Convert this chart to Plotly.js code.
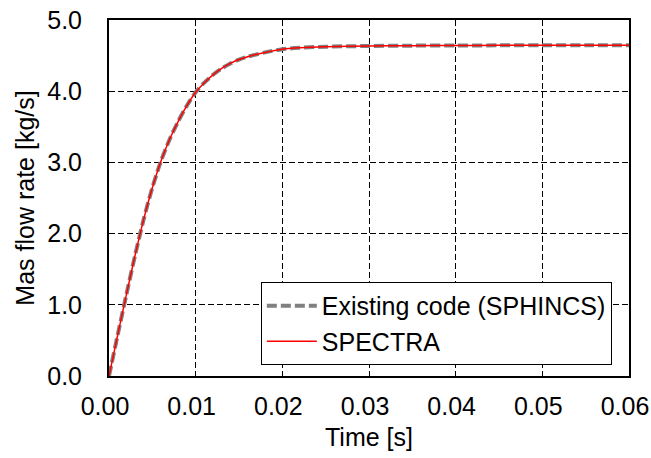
<!DOCTYPE html>
<html>
<head>
<meta charset="utf-8">
<script src="https://cdn.plot.ly/plotly-3.0.1.min.js"></script>
<style>html,body{margin:0;padding:0;background:#fff;}#chart{width:651px;height:458px;}</style>
</head>
<body>
<div id="chart"></div>
<script>
const time = [0, 0.001, 0.002, 0.003, 0.004, 0.005, 0.006, 0.007, 0.008, 0.009, 0.010, 0.011, 0.012, 0.013, 0.014, 0.015, 0.016, 0.018, 0.020, 0.022, 0.025, 0.030, 0.035, 0.040, 0.045, 0.050, 0.055, 0.060];
const sphincs = [0, 0.575, 1.14, 1.69, 2.20, 2.645, 3.02, 3.325, 3.58, 3.80, 3.985, 4.12, 4.23, 4.32, 4.39, 4.445, 4.485, 4.545, 4.59, 4.61, 4.625, 4.635, 4.64, 4.642, 4.644, 4.645, 4.645, 4.645];
const spectra = [0, 0.575, 1.14, 1.69, 2.20, 2.645, 3.02, 3.325, 3.58, 3.80, 3.985, 4.12, 4.23, 4.32, 4.39, 4.445, 4.485, 4.545, 4.59, 4.61, 4.625, 4.635, 4.64, 4.642, 4.644, 4.645, 4.645, 4.645];
const seriesNames = ["Existing code (SPHINCS)", "SPECTRA"];
const xTicks = [0, 0.01, 0.02, 0.03, 0.04, 0.05, 0.06];
const yTicks = [0, 1, 2, 3, 4, 5];

const font = {family: "Liberation Sans", size: 25, color: "#000"};
const traces = [
  {x: time, y: sphincs, name: seriesNames[0], mode: "lines", line: {color: "#808080", width: 4, dash: "10px,4px", shape: "spline", smoothing: 0.8}},
  {x: time, y: spectra, name: seriesNames[1], mode: "lines", line: {color: "#ff0000", width: 1.5, shape: "spline", smoothing: 0.8}}
];
const axisCommon = {
  showline: true, linecolor: "#000", linewidth: 2, mirror: true,
  showgrid: true, gridcolor: "#000", gridwidth: 1, griddash: "6px,3px",
  ticks: "inside", ticklen: 5, tickcolor: "#000", tickwidth: 1,
  zeroline: false, tickfont: font, ticklabeloverflow: "allow"
};
const layout = {
  width: 651, height: 458,
  margin: {l: 109, r: 22, t: 20, b: 82},
  paper_bgcolor: "#fff", plot_bgcolor: "#fff",
  font: font,
  showlegend: true,
  legend: {x: 0.967, y: 0.031, xanchor: "right", yanchor: "bottom", bgcolor: "#fff", bordercolor: "#000", borderwidth: 1, font: font, tracegroupgap: 0, itemwidth: 50},
  xaxis: Object.assign({}, axisCommon, {range: [0, 0.0600001], tickvals: xTicks, tickformat: ".2f", ticklabelstandoff: 7, ticklabelshift: -4, title: {text: "Time [s]", font: font, standoff: 9}}),
  yaxis: Object.assign({}, axisCommon, {range: [0, 5], tickvals: yTicks, tickformat: ".1f", ticklabelstandoff: 20, title: {text: "Mas flow rate [kg/s]", font: font, standoff: 5}})
};
Plotly.newPlot("chart", traces, layout, {displayModeBar: false, staticPlot: true});
</script>
</body>
</html>
